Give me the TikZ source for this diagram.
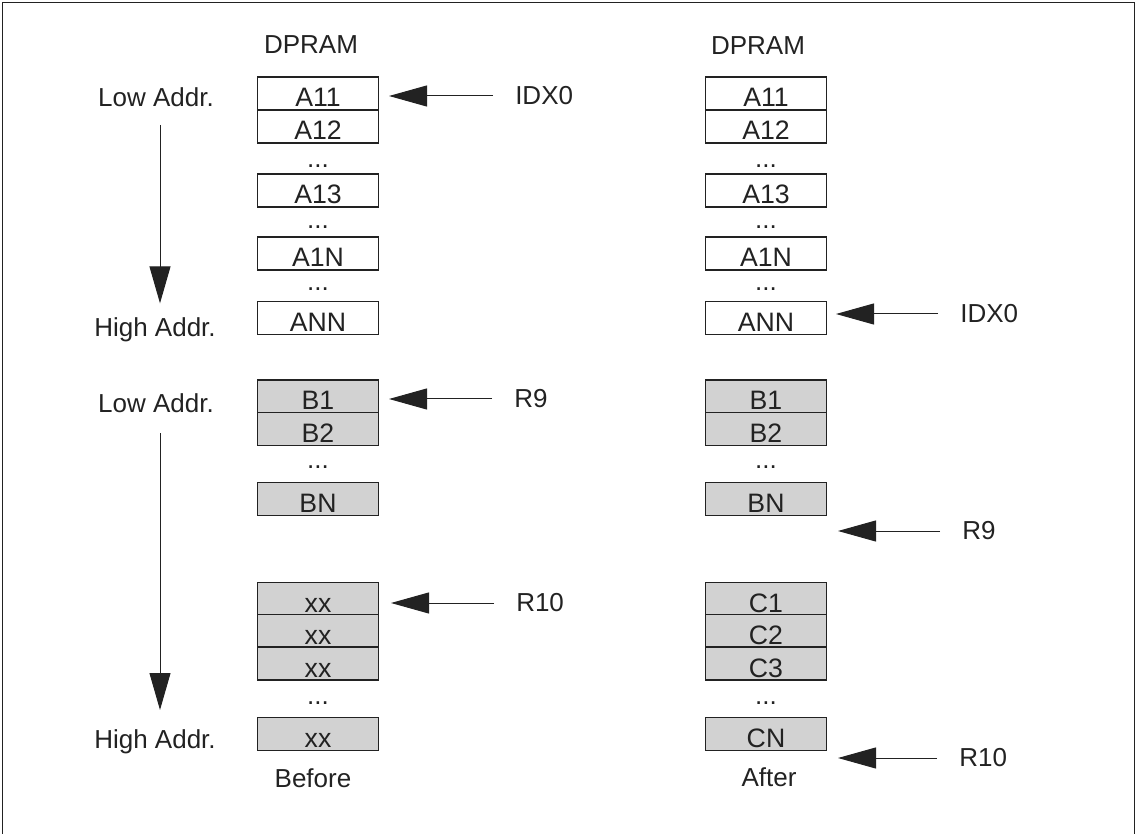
\documentclass[tikz,border=0pt]{standalone}
\usepackage{fontspec}
\setmainfont{Liberation Sans}
\usetikzlibrary{arrows.meta,positioning}
\definecolor{ink}{HTML}{222222}
\definecolor{shade}{HTML}{D2D2D2}
\tikzset{
  cell/.style={rectangle,draw=ink,line width=1pt,fill=white,minimum width=90.75pt,text height=22.5pt,text depth=2.25pt,inner sep=0pt,font=\fontsize{20}{22}\selectfont,text=ink},
  cellgray/.style={cell,fill=shade},
  txt/.style={inner sep=0pt,font=\fontsize{19.5}{22}\selectfont,text=ink},
  gap/.style={txt,anchor=base},
  ptr/.style={-{Triangle[length=28.5pt,width=15.75pt]},line width=0.75pt,ink},
  addr/.style={-{Triangle[length=27.75pt,width=15.75pt]},line width=0.75pt,ink}
}

\begin{document}
\begin{tikzpicture}[x=0.75pt,y=-0.75pt]
        \useasboundingbox (0,0) rectangle (1136,834);
        \draw[line width=1pt,ink] (2.5,840) -- (2.5,2.5) -- (1134.5,2.5) -- (1134.5,840);
        % address direction
        \node[txt] (lo1) at (156,97) {Low Addr.};
        \node[txt] (hi1) at (155,330) {High Addr.};
        \node[txt] (lo2) at (156,403) {Low Addr.};
        \node[txt] (hi2) at (155,742) {High Addr.};
        \draw[addr] ([xshift=3pt,yshift=-21pt]lo1.center) -- ([xshift=3.75pt,yshift=20pt]hi1.center);
        \draw[addr] ([xshift=3pt,yshift=-22.5pt]lo2.center) -- ([xshift=3.75pt,yshift=24pt]hi2.center);
        % before
        \node[txt] (dl) at (311,45) {DPRAM};
        \node[cell] (a11) at (318,93.5) {A11};
        \node[cell] (a12) at (318,126.5) {A12};
        \node[gap] at (318,168) {...};
        \node[cell] (a13) at (318,190.5) {A13};
        \node[gap] at (318,228.5) {...};
        \node[cell] (a1n) at (318,253.5) {A1N};
        \node[gap] at (318,290.5) {...};
        \node[cell] (ann) at (318,318) {ANN};
        \node[cellgray] (b1) at (318,396.5) {B1};
        \node[cellgray] (b2) at (318,429) {B2};
        \node[gap] at (318,468) {...};
        \node[cellgray] (bn) at (318,499) {BN};
        \node[cellgray] (x1) at (318,599) {xx};
        \node[cellgray] (x2) at (318,631) {xx};
        \node[cellgray] (x3) at (318,663.5) {xx};
        \node[gap] at (318,704.5) {...};
        \node[cellgray] (xn) at (318,734) {xx};
        \node[txt] (bf) at (313,778) {Before};
        % after
        \node[txt] (dr) at (758,46) {DPRAM};
        \node[cell] (a11r) at (766,93.5) {A11};
        \node[cell] (a12r) at (766,126.5) {A12};
        \node[gap] at (766,168) {...};
        \node[cell] (a13r) at (766,190.5) {A13};
        \node[gap] at (766,228.5) {...};
        \node[cell] (a1nr) at (766,253.5) {A1N};
        \node[gap] at (766,290.5) {...};
        \node[cell] (annr) at (766,318) {ANN};
        \node[cellgray] (b1r) at (766,396.5) {B1};
        \node[cellgray] (b2r) at (766,429) {B2};
        \node[gap] at (766,468) {...};
        \node[cellgray] (bnr) at (766,499) {BN};
        \node[cellgray] (c1) at (766,599) {C1};
        \node[cellgray] (c2) at (766,631) {C2};
        \node[cellgray] (c3) at (766,663.5) {C3};
        \node[gap] at (766,704.5) {...};
        \node[cellgray] (cn) at (766,734) {CN};
        \node[txt] (af) at (769,777) {After};
        % pointers
        \node[txt,anchor=west] (idxl) at (515,96) {IDX0};
        \node[txt,anchor=west] (r9l) at (514,399) {R9};
        \node[txt,anchor=west] (r10l) at (516,603) {R10};
        \node[txt,anchor=west] (idxr) at (960,314) {IDX0};
        \node[txt,anchor=west] (r9r) at (962,531) {R9};
        \node[txt,anchor=west] (r10r) at (959,758) {R10};
        \coordinate (idxlt) at (389,96);
        \coordinate (r9lt) at (389,399);
        \coordinate (r10lt) at (391,603);
        \coordinate (idxrt) at (836,314);
        \coordinate (r9rt) at (838,531);
        \coordinate (r10rt) at (838,758);
        \draw[ptr] ([xshift=-16.5pt]idxl.west) -- (idxlt);
        \draw[ptr] ([xshift=-16.5pt]r9l.west) -- (r9lt);
        \draw[ptr] ([xshift=-16.5pt]r10l.west) -- (r10lt);
        \draw[ptr] ([xshift=-16.5pt]idxr.west) -- (idxrt);
        \draw[ptr] ([xshift=-16.5pt]r9r.west) -- (r9rt);
        \draw[ptr] ([xshift=-16.5pt]r10r.west) -- (r10rt);
      \end{tikzpicture}
\end{document}
